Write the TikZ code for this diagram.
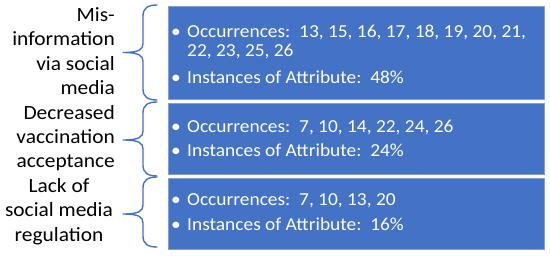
\documentclass[tikz,border=0pt]{standalone}
\usepackage{fontspec}
\setmainfont{Carlito}[FakeStretch=1.06]
\definecolor{pblue}{RGB}{68,114,196}
\definecolor{pedge}{RGB}{130,158,214}
\newcommand\mybrace[3]{%
  \draw[brc] (157,#1) .. controls (148,#1) and (143,#1+3) .. (143,#1+11)
    -- (143,#2-9) .. controls (143,#2-3) and (139,#2) .. (123,#2)
    .. controls (139,#2) and (143,#2+3) .. (143,#2+9)
    -- (143,#3-11) .. controls (143,#3-3) and (148,#3) .. (157,#3);}
\begin{document}
\begin{tikzpicture}[x=1pt,y=-1pt,
  box/.style={draw=pedge,line width=0.6pt,fill=pblue,anchor=north west,
    minimum width=376pt,inner sep=0pt,outer sep=0pt},
  lab/.style={inner sep=0pt,text=black,font=\fontsize{20.2}{24.4}\selectfont},
  itm/.style={inner sep=0pt,anchor=base west,text=white,
    font=\fontsize{18.3}{19}\selectfont},
  brc/.style={draw=pblue,line width=1.4pt,line join=round,line cap=round}]
\useasboundingbox (0,0) rectangle (550,255);
% boxes
\node[box,minimum height=93pt] (b1) at (168,6) {};
\node[box,minimum height=71pt] (b2) at (168,103) {};
\node[box,minimum height=71pt] (b3) at (168,178) {};
% box texts
\node[itm] (t1) at (171,37) {\begin{tabular}[t]{@{}p{16pt}@{}l@{}}
  •&Occurrences:\ \ 13, 15, 16, 17, 18, 19, 20, 21,\\
   &22, 23, 25, 26\\[8pt]
  •&Instances of Attribute:\ \ 48\%\end{tabular}};
\node[itm] (t2) at (171,132) {\begin{tabular}[t]{@{}p{16pt}@{}l@{}}
  •&Occurrences:\ \ 7, 10, 14, 22, 24, 26\\[5pt]
  •&Instances of Attribute:\ \ 24\%\end{tabular}};
\node[itm] (t3) at (171,205) {\begin{tabular}[t]{@{}p{16pt}@{}l@{}}
  •&Occurrences:\ \ 7, 10, 13, 20\\[6pt]
  •&Instances of Attribute:\ \ 16\%\end{tabular}};
% labels
\node[lab,anchor=base east] (l1) at (115,21.5) {\begin{tabular}[t]{@{}r@{}}
  Mis-\\information\\via social\\media\end{tabular}};
\node[lab,anchor=base east] (l2) at (115,119) {\begin{tabular}[t]{@{}r@{}}
  Decreased\\vaccination\\acceptance\end{tabular}};
\node[lab,anchor=base] (l3) at (59,192.5) {\begin{tabular}[t]{@{}c@{}}
  Lack of\\social media\\regulation\end{tabular}};
% braces
\mybrace{5}{52.5}{100}
\mybrace{102}{140}{176}
\mybrace{177}{214}{247}
\end{tikzpicture}
\end{document}
